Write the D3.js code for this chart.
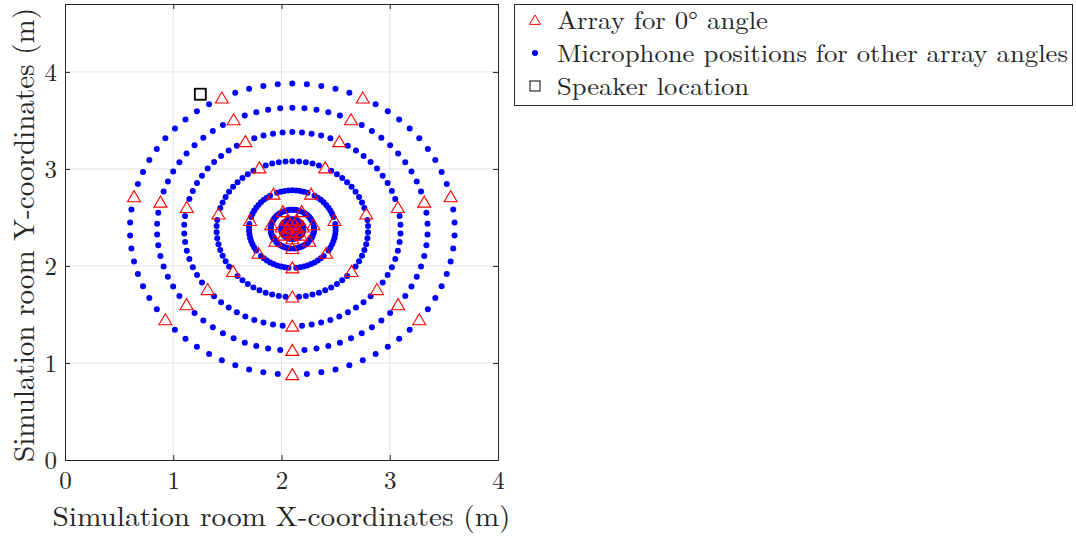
<!DOCTYPE html>
<html>
<head>
<meta charset="utf-8">
<script src="https://cdn.jsdelivr.net/npm/d3@7"></script>
<style>
  body { margin: 0; background: #fff; }
  svg text { font-family: "Latin Modern Roman", "CMU Serif", "Liberation Serif", serif; fill: #262626; }
</style>
</head>
<body>
<div id="chart"></div>
<script>
// array geometry (metres / degrees)
const arrayCenter = [2.1, 2.38];
const ringRadii = [1.5, 1.25, 1.0, 0.7, 0.4, 0.2, 0.1, 0.05];
// seven spokes of the array at 0 deg rotation
const spokeAngles = [-90, -38.57, 12.86, 64.29, 115.71, 167.14, 218.57];
// other rotations of the array (one spoke gap split in ten)
const rotationSteps = [5.14, 10.29, 15.43, 20.57, 25.71, 30.86, 36.0, 41.14, 46.29];
const speaker = [1.25, 3.77];

const xTicks = [0, 1, 2, 3, 4];
const yTicks = [0, 1, 2, 3, 4];
const legendLabels = ['Array for 0° angle', 'Microphone positions for other array angles', 'Speaker location'];

const globals = {
  red: '#ff0000',
  blue: '#0000ff',
  axis: '#262626',
  grid: '#e3e3e3'
};

const W = 1076;
const H = 536;

const svg = d3.select('#chart')
  .append('svg')
  .attr('width', W)
  .attr('height', H);

const x = d3.scaleLinear().domain([0, 4]).range([65, 498]);
const y = d3.scaleLinear().domain([0, 4.7]).range([460, 4]);

// polar position of a mic
function micPos(r, deg) {
  const a = deg * Math.PI / 180;
  return [arrayCenter[0] + r * Math.cos(a), arrayCenter[1] + r * Math.sin(a)];
}

const arrayZero = [];
const otherMics = [];
ringRadii.forEach((r) => {
  spokeAngles.forEach((s) => {
    arrayZero.push(micPos(r, s));
    rotationSteps.forEach((rot) => otherMics.push(micPos(r, s + rot)));
  });
});

// grid
const grid = svg.append('g');
grid.selectAll('line.gx')
  .data(xTicks.slice(1, -1))
  .enter()
  .append('line')
  .attr('x1', d => x(d)).attr('x2', d => x(d))
  .attr('y1', y(0)).attr('y2', y(4.7))
  .attr('stroke', globals.grid).attr('stroke-width', 1);
grid.selectAll('line.gy')
  .data(yTicks.slice(1))
  .enter()
  .append('line')
  .attr('y1', d => y(d)).attr('y2', d => y(d))
  .attr('x1', x(0)).attr('x2', x(4))
  .attr('stroke', globals.grid).attr('stroke-width', 1);

// marks
svg.append('g')
  .selectAll('circle')
  .data(otherMics)
  .enter()
  .append('circle')
  .attr('cx', d => x(d[0]))
  .attr('cy', d => y(d[1]))
  .attr('r', 3)
  .attr('fill', globals.blue);

const tri = 'M-6.5,5L6.5,5L0,-6Z';
svg.append('g')
  .selectAll('path')
  .data(arrayZero)
  .enter()
  .append('path')
  .attr('d', tri)
  .attr('transform', d => `translate(${x(d[0])},${y(d[1])})`)
  .attr('fill', 'none')
  .attr('stroke', globals.red)
  .attr('stroke-width', 1.1);

svg.append('rect')
  .attr('x', x(speaker[0]) - 5.5)
  .attr('y', y(speaker[1]) - 5.5)
  .attr('width', 11)
  .attr('height', 11)
  .attr('fill', 'none')
  .attr('stroke', '#000')
  .attr('stroke-width', 1.8);

// axes, matlab style box with inward ticks
const fmt = d3.format('d');
svg.append('g')
  .attr('class', 'xaxis')
  .attr('transform', `translate(0,${y(0)})`)
  .call(d3.axisBottom(x).tickValues(xTicks).tickFormat(fmt).tickSizeInner(-5).tickSizeOuter(0));
svg.append('g')
  .attr('class', 'yaxis')
  .attr('transform', `translate(${x(0)},0)`)
  .call(d3.axisLeft(y).tickValues(yTicks).tickFormat(fmt).tickSizeInner(-5).tickSizeOuter(0));
svg.append('g')
  .attr('transform', `translate(0,${y(4.7)})`)
  .call(d3.axisTop(x).tickValues(xTicks).tickSizeInner(-5).tickSizeOuter(0).tickFormat(''));
svg.append('g')
  .attr('transform', `translate(${x(4)},0)`)
  .call(d3.axisRight(y).tickValues(yTicks).tickSizeInner(-5).tickSizeOuter(0).tickFormat(''));

svg.selectAll('.domain, .tick line').attr('stroke', globals.axis);
svg.selectAll('.tick text')
  .attr('fill', globals.axis)
  .attr('font-size', 25)
  .attr('font-family', null);
svg.selectAll('.xaxis .tick text')
  .attr('y', 29)
  .attr('dy', null);
svg.selectAll('.yaxis .tick text')
  .attr('x', -8)
  .attr('dy', '0.33em');

svg.append('text')
  .attr('x', (x(0) + x(4)) / 2)
  .attr('y', 526)
  .attr('text-anchor', 'middle')
  .attr('font-size', 28)
  .attr('textLength', 458)
  .attr('lengthAdjust', 'spacingAndGlyphs')
  .text('Simulation room X-coordinates (m)');

svg.append('text')
  .attr('transform', `translate(34,235) rotate(-90)`)
  .attr('text-anchor', 'middle')
  .attr('font-size', 29)
  .attr('textLength', 454)
  .attr('lengthAdjust', 'spacingAndGlyphs')
  .text('Simulation room Y-coordinates (m)');

// legend
const legend = svg.append('g');
legend.append('rect')
  .attr('x', 514.5).attr('y', 4.5)
  .attr('width', 558).attr('height', 101)
  .attr('fill', '#fff')
  .attr('stroke', globals.axis)
  .attr('stroke-width', 1);

const legendWidths = [211, 511, 192];
const rows = legend.selectAll('g.row')
  .data(legendLabels)
  .enter()
  .append('g')
  .attr('transform', (d, i) => `translate(535,${20 + i * 33})`);

rows.append('text')
  .attr('x', 22)
  .attr('y', 8.5)
  .attr('font-size', 24.5)
  .attr('textLength', (d, i) => legendWidths[i])
  .attr('lengthAdjust', 'spacingAndGlyphs')
  .text(d => d);

rows.filter((d, i) => i === 0)
  .append('path')
  .attr('d', 'M-5.5,4.4L5.5,4.4L0,-5Z')
  .attr('fill', 'none')
  .attr('stroke', globals.red);
rows.filter((d, i) => i === 1)
  .append('circle')
  .attr('r', 3)
  .attr('fill', globals.blue);
rows.filter((d, i) => i === 2)
  .append('rect')
  .attr('x', -5).attr('y', -5)
  .attr('width', 10).attr('height', 10)
  .attr('fill', 'none')
  .attr('stroke', '#000');
</script>
</body>
</html>
